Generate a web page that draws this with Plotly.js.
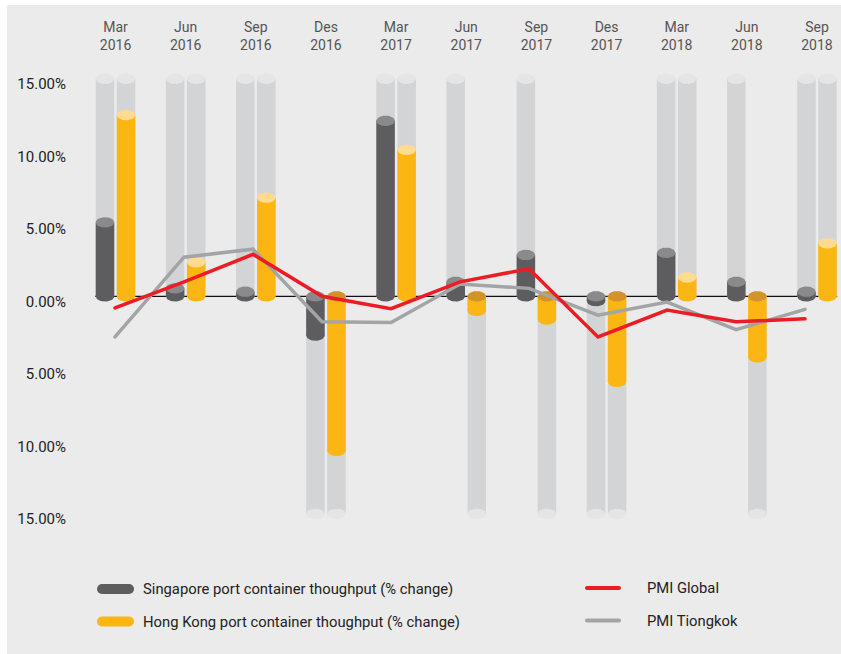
<!DOCTYPE html>
<html>
<head>
<meta charset="utf-8">
<script src="https://cdn.plot.ly/plotly-3.0.1.min.js"></script>
<style>
  html, body { margin: 0; padding: 0; background: #ffffff; }
  #chart { position: absolute; left: 7px; top: 5px; width: 834px; height: 649px; }
  .scatterlayer .js-line { stroke-linecap: round; }
  .shapelayer path { stroke-linecap: round; }
</style>
</head>
<body>
<div id="chart"></div>
<script>
// ---- data ----
const categories = ['Mar 2016', 'Jun 2016', 'Sep 2016', 'Des 2016', 'Mar 2017', 'Jun 2017',
                    'Sep 2017', 'Des 2017', 'Mar 2018', 'Jun 2018', 'Sep 2018'];
const singapore   = [5.1, 0.55, 0.32, -2.7, 12.1, 1.0, 2.85, -0.33, 3.0, 1.0, 0.32];
const hongKong    = [12.5, 2.35, 6.8, -10.65, 10.1, -1.0, -1.6, -5.9, 1.3, -4.2, 3.65];
const pmiGlobal   = [-0.8, 1.0, 2.9, 0.0, -0.85, 1.0, 1.9, -2.8, -0.95, -1.75, -1.55];
const pmiTiongkok = [-2.8, 2.7, 3.25, -1.75, -1.8, 0.85, 0.55, -1.3, -0.4, -2.3, -0.9];
const yTickVals   = [15, 10, 5, 0, -5, -10, -15];
const yTickText   = ['15.00%', '10.00%', '5.00%', '0.00%', '5.00%', '10.00%', '15.00%'];
const seriesNames = ['Singapore port container thoughput (% change)',
                     'Hong Kong port container thoughput (% change)',
                     'PMI Global', 'PMI Tiongkok'];

// ---- styling ----
const BAR_W = 0.264, OFF = 0.15, RX = BAR_W / 2, RY = 0.36, BG_MAX = 15;
const C = {
  panel: '#ebebeb', bg: '#d3d4d6', bgCap: '#e4e5e7',
  dark: '#5d5d5f', darkCap: '#8a8a8c',
  yel: '#fbb614', yelCapPos: '#fedb8f', yelCapNeg: '#d4922b',
  red: '#ed1c24', gray: '#a3a4a6', text: '#222222', top: '#555555'
};
const FONT = 'Roboto, "DejaVu Sans", sans-serif';
const idx = categories.map((_, i) => i);

function ellipsePts(xs, ys) {
  const X = [], Y = [];
  xs.forEach((xc, k) => {
    const yc = ys[k];
    for (let j = 0; j <= 40; j++) {
      const t = 2 * Math.PI * j / 40;
      X.push(xc + RX * Math.cos(t));
      Y.push(yc + RY * Math.sin(t));
    }
    X.push(null); Y.push(null);
  });
  return {x: X, y: Y};
}
function ellTrace(xs, ys, color) {
  const p = ellipsePts(xs, ys);
  return {type: 'scatter', mode: 'lines', x: p.x, y: p.y, fill: 'toself', fillcolor: color,
          line: {width: 0, color: color}, hoverinfo: 'skip', showlegend: false, xaxis: 'x', yaxis: 'y'};
}
function bar(vals, off, color, bg) {
  return {type: 'bar', x: idx, y: bg ? vals.map(v => Math.sign(v) * BG_MAX) : vals, base: 0,
          width: BAR_W, offset: off - BAR_W / 2,
          marker: {color: color, line: {width: 0}}, hoverinfo: 'skip', showlegend: false};
}

const series = [
  {vals: singapore, off: -OFF, body: C.dark, capPos: C.darkCap, capNeg: C.darkCap},
  {vals: hongKong,  off:  OFF, body: C.yel,  capPos: C.yelCapPos, capNeg: C.yelCapNeg}
];

const traces = [];
series.forEach(s => traces.push(bar(s.vals, s.off, C.bg, true)));
series.forEach(s => traces.push(bar(s.vals, s.off, s.body, false)));
// background caps
series.forEach(s => traces.push(ellTrace(idx.map(i => i + s.off), s.vals.map(v => Math.sign(v) * BG_MAX), C.bgCap)));
// rounded bottoms
series.forEach(s => traces.push(ellTrace(idx.map(i => i + s.off), s.vals.map(v => v > 0 ? 0 : v), s.body)));
// top caps
series.forEach(s => {
  const pi = idx.filter(i => s.vals[i] > 0), ni = idx.filter(i => s.vals[i] < 0);
  traces.push(ellTrace(pi.map(i => i + s.off), pi.map(i => s.vals[i]), s.capPos));
  traces.push(ellTrace(ni.map(i => i + s.off), ni.map(() => 0), s.capNeg));
});
// PMI lines
traces.push({type: 'scatter', mode: 'lines', x: idx, y: pmiTiongkok, name: seriesNames[3], xaxis: 'x2', yaxis: 'y',
             line: {color: C.gray, width: 3.5}, showlegend: false});
traces.push({type: 'scatter', mode: 'lines', x: idx, y: pmiGlobal, name: seriesNames[2], xaxis: 'x2', yaxis: 'y',
             line: {color: C.red, width: 3.5}, showlegend: false});

// ---- legend (drawn in paper coordinates) ----
const PL = 77, PW = 763, PB = 540, PH = 475;  // plot area in page px
const px = X => (X - PL) / PW, py = Y => (PB - Y) / PH;
const legendItems = [
  {name: seriesNames[0], color: C.dark, w: 10, x0: 102, x1: 129, y: 589, tx: 141},
  {name: seriesNames[1], color: C.yel,  w: 10, x0: 102, x1: 129, y: 621.5, tx: 141},
  {name: seriesNames[2], color: C.red,  w: 4,  x0: 587, x1: 619, y: 588, tx: 645},
  {name: seriesNames[3], color: C.gray, w: 4,  x0: 587, x1: 619, y: 620.5, tx: 645}
];
const shapes = [{type: 'line', xref: 'x', yref: 'y', x0: -OFF - RX, x1: idx.length - 1 + OFF + RX, y0: 0, y1: 0,
                 line: {color: '#111111', width: 1.2}, layer: 'below'}];
const annotations = [];
legendItems.forEach(it => {
  shapes.push({type: 'line', xref: 'paper', yref: 'paper', x0: px(it.x0), x1: px(it.x1), y0: py(it.y), y1: py(it.y),
               line: {color: it.color, width: it.w}});
  annotations.push({xref: 'paper', yref: 'paper', x: px(it.tx), y: py(it.y), xanchor: 'left', yanchor: 'middle',
                    text: it.name, showarrow: false, font: {family: FONT, size: 14.8, color: C.text}});
});

const layout = {
  width: 834, height: 649,
  margin: {l: 70, r: 1, t: 60, b: 114},
  paper_bgcolor: C.panel, plot_bgcolor: C.panel,
  barmode: 'overlay', showlegend: false,
  font: {family: FONT},
  xaxis: {range: [-0.549, 10.328], side: 'top', tickmode: 'array', tickvals: idx,
          ticktext: categories.map(c => c.replace(' ', '<br>')), ticks: '', showgrid: false,
          zeroline: false, showline: false, ticklabelstandoff: 11,
          tickfont: {family: FONT, size: 14, color: C.top}},
  xaxis2: {range: [-0.551, 10.507], overlaying: 'x', visible: false},
  yaxis: {range: [-16.8, 15.95], tickmode: 'array', tickvals: yTickVals, ticktext: yTickText,
          ticks: '', showgrid: false, zeroline: false, showline: false, ticklabelstandoff: 10,
          ticklabelshift: 5, tickfont: {family: FONT, size: 15, color: C.text}},
  shapes: shapes, annotations: annotations
};

Plotly.newPlot('chart', traces, layout, {displayModeBar: false, staticPlot: true});
</script>
</body>
</html>
